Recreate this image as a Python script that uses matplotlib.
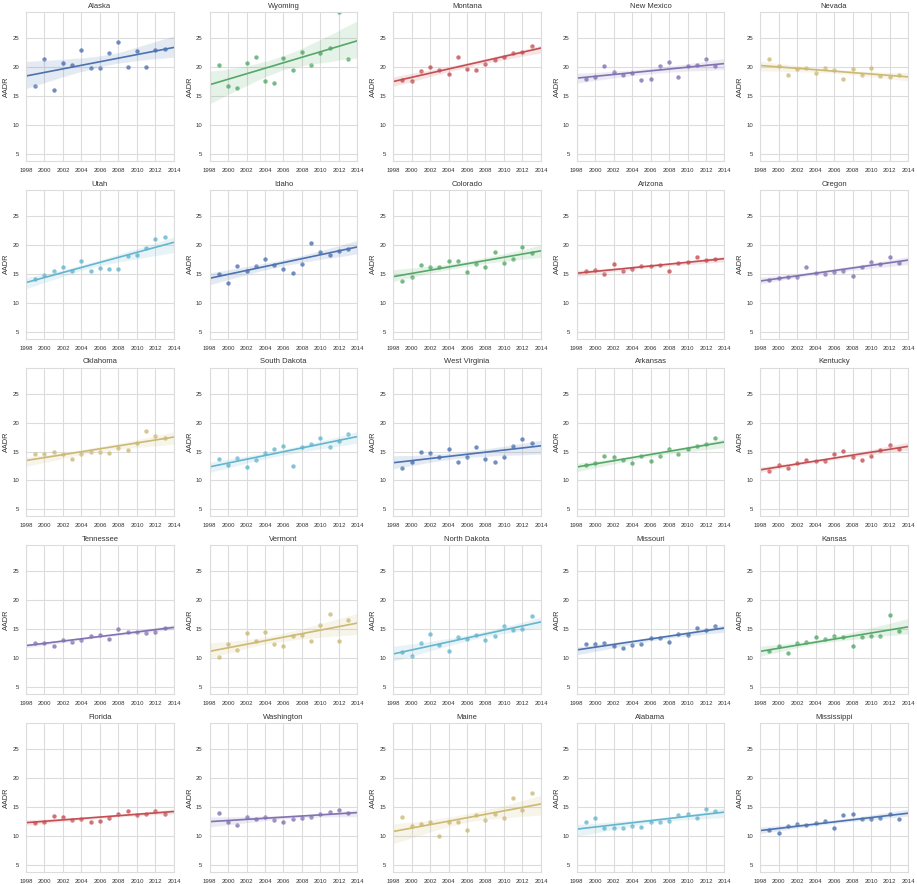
import matplotlib
matplotlib.use('Agg')
import matplotlib.pyplot as plt
import seaborn as sns
import numpy as np

# Age-adjusted death rate by year, one list per state
years = list(range(1999, 2014))

alaska = [16.8, 21.4, 16.0, 20.7, 20.3, 23.0, 19.9, 19.9, 22.5, 24.3, 20.0, 22.8, 20.0, 23.0, 23.1]
wyoming = [20.3, 16.7, 16.4, 20.7, 21.8, 17.5, 17.2, 21.6, 19.4, 22.6, 20.3, 22.4, 23.2, 29.5, 21.4]
montana = [17.7, 17.5, 19.3, 20.0, 19.4, 18.8, 21.7, 19.7, 19.4, 20.6, 21.2, 21.7, 22.5, 22.6, 23.6]
new_mexico = [18.0, 18.2, 20.2, 19.1, 18.6, 18.9, 17.8, 17.9, 20.2, 20.9, 18.2, 20.2, 20.3, 21.3, 20.2]
nevada = [21.3, 20.2, 18.6, 19.7, 19.8, 18.9, 19.8, 19.4, 18.0, 19.7, 18.7, 19.8, 18.4, 18.3, 18.6]
utah = [14.1, 14.8, 15.5, 16.2, 15.4, 17.2, 15.4, 16.0, 15.8, 15.9, 18.0, 18.3, 19.4, 21.0, 21.4]
idaho = [14.9, 13.4, 16.4, 15.5, 16.4, 17.6, 16.5, 15.8, 15.1, 16.7, 20.3, 18.8, 18.3, 19.0, 19.2]
colorado = [13.8, 14.4, 16.5, 16.2, 16.1, 17.2, 17.2, 15.3, 16.7, 16.2, 18.7, 16.8, 17.5, 19.7, 18.6]
arizona = [15.5, 15.6, 14.9, 16.6, 15.5, 15.8, 16.4, 16.4, 16.5, 15.5, 16.8, 17.0, 17.9, 17.3, 17.5]
oregon = [13.9, 14.2, 14.4, 14.5, 16.2, 15.1, 15.0, 15.3, 15.4, 14.6, 16.2, 17.1, 16.6, 17.9, 16.8]
oklahoma = [14.5, 14.6, 14.9, 14.5, 13.7, 14.5, 14.9, 15.0, 14.7, 15.6, 15.3, 16.5, 18.5, 17.7, 17.3]
south_dakota = [13.7, 12.7, 13.9, 12.3, 13.5, 14.7, 15.4, 16.0, 12.5, 15.7, 16.3, 17.4, 15.7, 16.8, 18.0]
west_virginia = [12.2, 13.2, 15.0, 14.8, 14.0, 15.4, 13.2, 14.0, 15.7, 13.7, 13.2, 14.1, 15.9, 17.1, 16.4]
arkansas = [12.6, 13.0, 14.2, 14.0, 13.6, 13.0, 14.3, 13.3, 14.2, 15.5, 14.5, 15.5, 16.0, 16.3, 17.4]
kentucky = [11.7, 12.7, 12.1, 13.0, 13.5, 13.3, 13.4, 14.6, 15.1, 14.0, 13.5, 14.2, 15.2, 16.2, 15.5]
tennessee = [12.6, 12.7, 12.2, 13.2, 12.9, 13.2, 13.9, 14.0, 13.3, 15.0, 14.6, 14.6, 14.4, 14.6, 15.3]
vermont = [10.3, 12.4, 11.5, 14.3, 13.0, 14.5, 12.5, 12.2, 13.8, 14.1, 13.0, 15.7, 17.7, 13.0, 16.7]
north_dakota = [11.1, 10.4, 12.7, 14.2, 12.3, 11.2, 13.6, 13.3, 14.1, 13.1, 13.8, 15.6, 14.9, 15.1, 17.3]
missouri = [12.5, 12.4, 12.7, 12.1, 11.8, 12.3, 12.5, 13.5, 13.5, 12.9, 14.2, 14.0, 15.3, 14.9, 15.6]
kansas = [11.3, 12.2, 11.0, 12.6, 12.8, 13.6, 13.3, 13.8, 13.6, 12.1, 13.6, 13.9, 13.8, 17.4, 14.7]
florida = [12.2, 12.4, 13.4, 13.3, 12.8, 13.0, 12.5, 12.6, 13.2, 13.8, 14.4, 13.7, 13.9, 14.3, 13.8]
washington = [14.0, 12.4, 11.9, 13.3, 13.0, 13.3, 12.8, 12.4, 13.0, 13.2, 13.3, 13.9, 14.2, 14.5, 14.0]
maine = [13.3, 11.8, 12.1, 12.5, 10.0, 12.4, 12.5, 11.1, 13.6, 12.8, 13.9, 13.1, 16.6, 14.5, 17.4]
alabama = [12.4, 13.1, 11.4, 11.4, 11.4, 11.7, 11.5, 12.4, 12.4, 12.6, 13.7, 13.9, 13.2, 14.7, 14.3]
mississippi = [11.0, 10.5, 11.7, 12.1, 11.9, 12.2, 12.6, 11.4, 13.6, 13.8, 13.0, 13.0, 13.1, 13.9, 13.0]

state_names = ['Alaska', 'Wyoming', 'Montana', 'New Mexico', 'Nevada',
               'Utah', 'Idaho', 'Colorado', 'Arizona', 'Oregon',
               'Oklahoma', 'South Dakota', 'West Virginia', 'Arkansas', 'Kentucky',
               'Tennessee', 'Vermont', 'North Dakota', 'Missouri', 'Kansas',
               'Florida', 'Washington', 'Maine', 'Alabama', 'Mississippi']
state_values = [alaska, wyoming, montana, new_mexico, nevada,
                utah, idaho, colorado, arizona, oregon,
                oklahoma, south_dakota, west_virginia, arkansas, kentucky,
                tennessee, vermont, north_dakota, missouri, kansas,
                florida, washington, maine, alabama, mississippi]

# old seaborn "deep" palette
palette = ['#4C72B0', '#55A868', '#C44E52', '#8172B2', '#CCB974', '#64B5CD']

sns.set_style('whitegrid')
plt.rcParams['font.family'] = ['Liberation Sans', 'DejaVu Sans']

fig, axes = plt.subplots(5, 5, figsize=(9.17, 8.84), dpi=100)
fig.subplots_adjust(left=26/917, right=908/917, top=1-12/884, bottom=1-872/884,
                    wspace=0.24, hspace=0.195)

for i, (name, vals) in enumerate(zip(state_names, state_values)):
    ax = axes.flat[i]
    ax.set_xlim(1998, 2014)
    ax.set_ylim(3.8, 29.5)
    sns.regplot(x=np.array(years), y=np.array(vals), ax=ax, color=palette[i % 6],
                truncate=False, seed=0,
                scatter_kws={'s': 10, 'alpha': 0.8, 'linewidths': 0},
                line_kws={'lw': 1.2})
    ax.set_xlim(1998, 2014)
    ax.set_ylim(3.8, 29.5)
    ax.set_xticks(range(1998, 2015, 2))
    ax.set_yticks([5, 10, 15, 20, 25])
    ax.tick_params(labelsize=4.3, colors='#333333', pad=1.5)
    ax.set_title(name, fontsize=5.5, color='#333333', pad=3)
    ax.set_ylabel('AADR', fontsize=5.3, color='#333333', labelpad=1.5)
    ax.set_xlabel('')
    ax.grid(True, color='#dcdcdc', lw=0.8)
    for sp in ax.spines.values():
        sp.set_color('#dcdcdc')
        sp.set_linewidth(0.8)

fig.savefig('out.png', dpi=100)
